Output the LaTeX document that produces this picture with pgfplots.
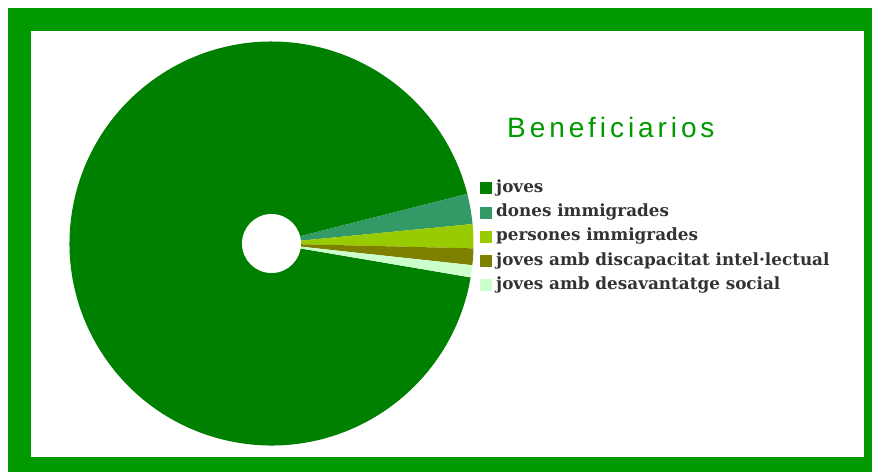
\documentclass[border=0pt]{standalone}
\usepackage{fontspec}
\usepackage{pgfplots}
\usepackage{pgfplotstable}
\pgfplotsset{compat=1.18}

\newfontfamily\titlefont[LetterSpace=14]{Liberation Sans}
\newfontfamily\legendfont{DejaVu Serif}

\definecolor{framegreen}{RGB}{0,153,0}
\definecolor{pie0}{RGB}{0,128,0}
\definecolor{pie1}{RGB}{51,153,102}
\definecolor{pie2}{RGB}{153,204,0}
\definecolor{pie3}{RGB}{128,128,0}
\definecolor{pie4}{RGB}{204,255,204}
\definecolor{legtext}{RGB}{51,51,51}

% shares in percent
\pgfplotstableread{
group value
joves 93.36
dones 2.42
persones 1.92
discap 1.33
desav 0.97
}\pietable

% slices run clockwise from this angle
\def\pieangle{-9.66}
\pgfplotsforeachungrouped \i in {0,...,4}{%
  \pgfplotstablegetelem{\i}{value}\of\pietable
  \pgfmathsetmacro\endang{\pieangle-3.6*\pgfplotsretval}%
  \expandafter\xdef\csname pieA\i\endcsname{\pieangle}%
  \expandafter\xdef\csname pieB\i\endcsname{\endang}%
  \xdef\pieangle{\endang}%
}

\begin{document}
\begin{tikzpicture}
\begin{axis}[
  width=872pt, height=472pt, scale only axis,
  xmin=0, xmax=872, ymin=0, ymax=472, y dir=reverse,
  hide axis, clip=false,
  legend style={at={(axis cs:477,178)}, anchor=north west, draw=none, fill=none,
    font=\legendfont\bfseries\fontsize{16.8}{19}\selectfont, text=legtext,
    row sep=8.3pt, nodes={inner sep=0pt, text height=12pt, text depth=4pt}},
  legend cell align=left,
  /tikz/every odd column/.append style={column sep=4pt},
  sq/.style={legend image code/.code={\fill[##1] (0pt,-6pt) rectangle (12pt,6pt);}},
]
\fill[white] (axis cs:0,0) rectangle (axis cs:872,472);
\fill[framegreen] (axis cs:8,8) rectangle (axis cs:872,472);
\fill[white] (axis cs:31,31) rectangle (axis cs:864,457);

\pgfplotsinvokeforeach{0,...,4}{
  \fill[pie#1] (axis cs:271.5,243.5) -- ++(\csname pieA#1\endcsname:202pt)
    arc[start angle=\csname pieA#1\endcsname, end angle=\csname pieB#1\endcsname, radius=202pt] -- cycle;
}
\fill[white] (axis cs:271.5,243.5) circle[radius=29.5pt];

\node[anchor=base west, inner sep=0pt, font=\titlefont\fontsize{28}{32}\selectfont, text=framegreen]
  at (axis cs:507,137) {Beneficiarios};

\addlegendimage{sq, fill=pie0, draw=none}\addlegendentry{joves}
\addlegendimage{sq, fill=pie1, draw=none}\addlegendentry{dones immigrades}
\addlegendimage{sq, fill=pie2, draw=none}\addlegendentry{persones immigrades}
\addlegendimage{sq, fill=pie3, draw=none}\addlegendentry{joves amb discapacitat intel·lectual}
\addlegendimage{sq, fill=pie4, draw=none}\addlegendentry{joves amb desavantatge social}
\end{axis}
\end{tikzpicture}
\end{document}
